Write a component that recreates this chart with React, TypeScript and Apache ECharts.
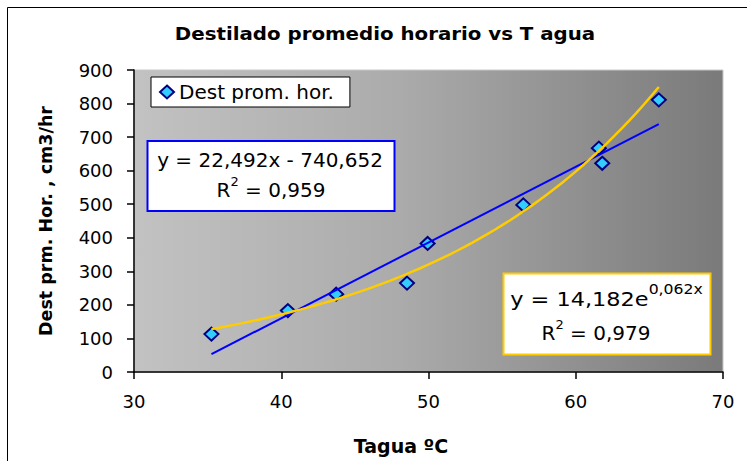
import React, { useEffect, useRef } from "react";
import * as echarts from "echarts";

const chartTitle = "Destilado promedio horario vs T agua";
const seriesName = "Dest prom. hor.";
const xAxisName = "Tagua ºC";
const yAxisName = "Dest prm. Hor. , cm3/hr";

// Water temperature (ºC) and hourly distillate (cm3/hr)
const tempValues = [35.26, 40.45, 43.73, 48.54, 49.94, 56.44, 61.57, 61.8, 65.64];
const destValues = [113, 183, 232, 265, 383, 498, 667, 622, 811];

const xTicks = { min: 30, max: 70, interval: 10 };
const yTicks = { min: 0, max: 900, interval: 100 };

const linearEquation = "y = 22,492x - 740,652";
const linearR2 = "0,959";
const expEquationBase = "y = 14,182e";
const expEquationExponent = "0,062x";
const expR2 = "0,979";

function linearFit(xs: number[], ys: number[]) {
  const n = xs.length;
  const mx = xs.reduce((a, b) => a + b, 0) / n;
  const my = ys.reduce((a, b) => a + b, 0) / n;
  let sxy = 0;
  let sxx = 0;
  for (let i = 0; i < n; i++) {
    sxy += (xs[i] - mx) * (ys[i] - my);
    sxx += (xs[i] - mx) * (xs[i] - mx);
  }
  const slope = sxy / sxx;
  return { slope, intercept: my - slope * mx };
}

export default function App() {
  const ref = useRef<HTMLDivElement>(null);

  useEffect(() => {
    if (!ref.current) return;
    const chart = echarts.init(ref.current, undefined, { renderer: "svg" });

    const xMin = Math.min(...tempValues);
    const xMax = Math.max(...tempValues);

    const lin = linearFit(tempValues, destValues);
    const linearLine = [
      [xMin, lin.slope * xMin + lin.intercept],
      [xMax, lin.slope * xMax + lin.intercept],
    ];

    const logFit = linearFit(
      tempValues,
      destValues.map((v) => Math.log(v))
    );
    const expA = Math.exp(logFit.intercept);
    const expB = logFit.slope;
    const expLine: number[][] = [];
    const steps = 60;
    for (let i = 0; i <= steps; i++) {
      const x = xMin + ((xMax - xMin) * i) / steps;
      expLine.push([x, expA * Math.exp(expB * x)]);
    }

    const font = "DejaVu Sans";

    chart.setOption({
      animation: false,
      backgroundColor: "#ffffff",
      legend: {
        data: [seriesName],
        left: 151,
        top: 77,
        orient: "horizontal",
        backgroundColor: "#ffffff",
        borderColor: "#000000",
        borderWidth: 1,
        borderRadius: 0,
        padding: [5, 16, 5, 8],
        itemWidth: 14,
        itemHeight: 13,
        icon: "diamond",
        textStyle: {
          fontFamily: font,
          fontSize: 20,
          lineHeight: 20,
          color: "#000",
        },
      },
      grid: {
        left: 134,
        top: 70,
        width: 589,
        height: 302,
        containLabel: false,
        outerBoundsMode: "none",
        show: true,
        borderColor: "#c8c8c8",
        borderWidth: 1,
        backgroundColor: new echarts.graphic.LinearGradient(0, 0, 1, 0, [
          { offset: 0, color: "#c2c2c2" },
          { offset: 0.45, color: "#ababab" },
          { offset: 1, color: "#7a7a7a" },
        ]),
      },
      xAxis: {
        type: "value",
        min: xTicks.min,
        max: xTicks.max,
        interval: xTicks.interval,
        name: xAxisName,
        nameLocation: "middle",
        nameGap: 64,
        nameTextStyle: {
          fontFamily: font,
          fontSize: 19,
          fontWeight: "bold",
          color: "#000",
          padding: [0, 55, 0, 0],
        },
        axisLine: { show: true, onZero: false, lineStyle: { color: "#000", width: 1.5 } },
        axisTick: { show: true, inside: false, length: 7, lineStyle: { color: "#000", width: 1.5 } },
        axisLabel: { margin: 20, fontFamily: font, fontSize: 18, color: "#000" },
        splitLine: { show: false },
      },
      yAxis: {
        type: "value",
        min: yTicks.min,
        max: yTicks.max,
        interval: yTicks.interval,
        name: yAxisName,
        nameLocation: "middle",
        nameGap: 79,
        nameRotate: 90,
        nameTextStyle: {
          fontFamily: font,
          fontSize: 17.5,
          fontWeight: "bold",
          color: "#000",
        },
        axisLine: { show: true, onZero: false, lineStyle: { color: "#000", width: 1.5 } },
        axisTick: { show: true, inside: false, length: 7, lineStyle: { color: "#000", width: 1.5 } },
        axisLabel: { margin: 21, fontFamily: font, fontSize: 18, color: "#000" },
        splitLine: { show: false },
      },
      series: [
        {
          name: seriesName,
          type: "scatter",
          data: tempValues.map((x, i) => [x, destValues[i]]),
          symbol: "diamond",
          symbolSize: [14, 13],
          itemStyle: { color: "#33ccff", borderColor: "#000080", borderWidth: 2, opacity: 1 },
          z: 2,
        },
        {
          name: "Lineal",
          type: "line",
          data: linearLine,
          showSymbol: false,
          symbol: "none",
          lineStyle: { color: "#0000ff", width: 2 },
          z: 3,
        },
        {
          name: "Exponencial",
          type: "line",
          data: expLine,
          showSymbol: false,
          symbol: "none",
          smooth: false,
          lineStyle: { color: "#ffcc00", width: 2.5 },
          z: 4,
        },
      ],
      graphic: [
        {
          type: "rect",
          silent: true,
          z: 200,
          shape: { x: 7.5, y: 7.5, width: 800, height: 500 },
          style: { fill: "none", stroke: "#000", lineWidth: 1 },
        },
        {
          type: "text",
          z: 100,
          x: 385,
          y: 33,
          scaleX: 1.1,
          style: {
            text: chartTitle,
            align: "center",
            verticalAlign: "middle",
            fontFamily: font,
            fontSize: 18,
            fontWeight: "bold",
            fill: "#000",
          },
        },
        {
          type: "group",
          z: 100,
          children: [
            {
              type: "rect",
              shape: { x: 147.5, y: 141, width: 247, height: 70 },
              style: { fill: "#ffffff", stroke: "#0000ff", lineWidth: 2 },
            },
            {
              type: "text",
              x: 270,
              y: 160,
              style: {
                text: linearEquation,
                align: "center",
                verticalAlign: "middle",
                fontFamily: font,
                fontSize: 20,
                fill: "#000",
              },
            },
            {
              type: "text",
              x: 271,
              y: 190,
              style: {
                text: "{a|R}{s|2}{a| = " + linearR2 + "}",
                align: "center",
                verticalAlign: "middle",
                fill: "#000",
                rich: {
                  a: { fontFamily: font, fontSize: 20, lineHeight: 31, fill: "#000" },
                  s: { fontFamily: font, fontSize: 13, lineHeight: 20, verticalAlign: "top", fill: "#000" },
                },
              },
            },
          ],
        },
        {
          type: "group",
          z: 100,
          children: [
            {
              type: "rect",
              shape: { x: 503.5, y: 273.5, width: 207, height: 81 },
              style: { fill: "#ffffff", stroke: "#ffcc00", lineWidth: 2 },
            },
            {
              type: "text",
              x: 606.5,
              y: 299,
              scaleX: 1.12,
              style: {
                text: "{a|" + expEquationBase + "}{e|" + expEquationExponent + "}",
                align: "center",
                verticalAlign: "middle",
                fill: "#000",
                rich: {
                  a: { fontFamily: font, fontSize: 20, lineHeight: 33, fill: "#000" },
                  e: { fontFamily: font, fontSize: 14, lineHeight: 14, verticalAlign: "top", fill: "#000" },
                },
              },
            },
            {
              type: "text",
              x: 596,
              y: 333,
              style: {
                text: "{a|R}{s|2}{a| = " + expR2 + "}",
                align: "center",
                verticalAlign: "middle",
                fill: "#000",
                rich: {
                  a: { fontFamily: font, fontSize: 20, lineHeight: 31, fill: "#000" },
                  s: { fontFamily: font, fontSize: 13, lineHeight: 20, verticalAlign: "top", fill: "#000" },
                },
              },
            },
          ],
        },
      ],
    });

    return () => chart.dispose();
  }, []);

  return (
    <div
      ref={ref}
      style={{ position: "absolute", left: 0, top: 0, width: 747, height: 461 }}
    />
  );
}
